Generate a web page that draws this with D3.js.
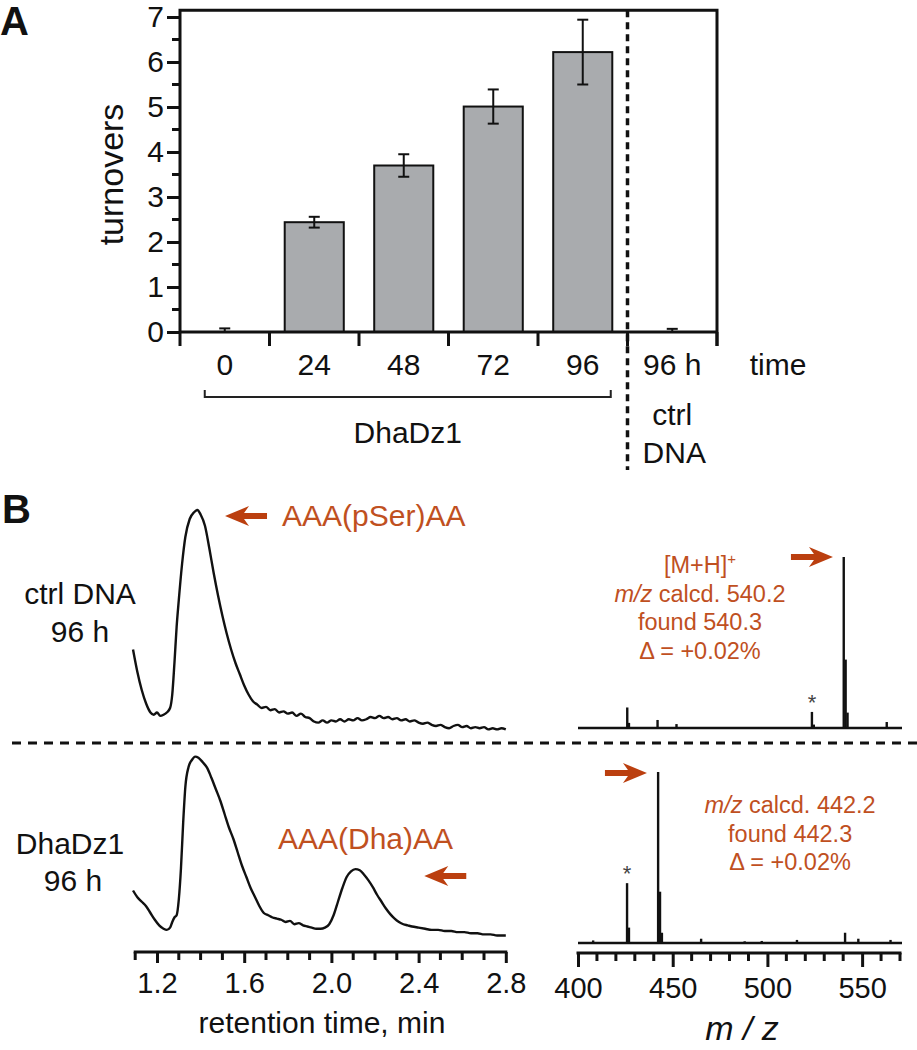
<!DOCTYPE html>
<html><head><meta charset="utf-8">
<script src="https://cdn.jsdelivr.net/npm/d3@7"></script>
<style>body{margin:0;background:#fff} svg{display:block;font-family:"Liberation Sans",Arial,Helvetica,sans-serif}</style>
</head><body><svg id="c" width="917" height="1050"></svg>
<script>
// ---------- Panel A data ----------
const categories = ["0","24","48","72","96","96 h"];
const turnovers = [0.0, 2.44, 3.70, 5.01, 6.22, 0.0];
const turnoverErr = [0.08, 0.12, 0.25, 0.38, 0.72, 0.07];
const yTicksA = [0,1,2,3,4,5,6,7];
const yMinorA = [0.5,1.5,2.5,3.5,4.5,5.5,6.5];

// ---------- Panel B: chromatograms (retention time min, intensity a.u.) ----------
const ctrlTime = [1.09,1.11,1.13,1.15,1.17,1.185,1.20,1.215,1.23,1.245,1.26,1.27,1.28,1.29,1.30,1.315,1.33,1.35,1.37,1.385,1.40,1.42,1.44,1.46,1.48,1.50,1.52,1.54,1.56,1.58,1.60,1.62,1.64,1.66,1.68,1.70,1.72,1.74,1.76,1.78,1.80,1.82,1.84,1.86,1.88,1.90,1.92,1.94,1.96,1.98,2.00,2.02,2.04,2.06,2.08,2.10,2.12,2.14,2.16,2.18,2.20,2.22,2.24,2.26,2.28,2.30,2.32,2.34,2.36,2.38,2.40,2.42,2.44,2.46,2.48,2.50,2.52,2.54,2.56,2.58,2.60,2.62,2.64,2.66,2.68,2.70,2.72,2.74,2.76,2.78,2.80];
const ctrlSignal = [38,28,20,14,10,9,10,8.5,9,10,12,18,32,48,60,76,88,96,99,100,98,93,83,72,62,53,45,38,32,27,22,18,15,13.5,12,12.5,11,11.5,10,10.5,9.5,10,8.5,9.5,8,7.5,6,5.5,6.5,5.5,6.5,6,7,6,7,6.5,7.5,6.5,7,8,7.5,8.5,7.5,8,7,7.5,6.5,7,6,6.5,5.5,5,5.5,4.5,4,4.5,3.5,3,4,4.5,3.5,4,3,3.5,3,3.5,2.5,3,2.5,3,2.5];
const dhaTime = [1.09,1.11,1.13,1.15,1.17,1.19,1.21,1.23,1.245,1.26,1.27,1.28,1.29,1.30,1.31,1.32,1.33,1.345,1.36,1.375,1.39,1.41,1.43,1.45,1.47,1.49,1.51,1.53,1.55,1.57,1.59,1.61,1.63,1.65,1.67,1.69,1.71,1.73,1.75,1.77,1.79,1.81,1.83,1.85,1.87,1.89,1.91,1.93,1.95,1.97,1.99,2.01,2.03,2.05,2.07,2.09,2.11,2.13,2.15,2.17,2.19,2.21,2.23,2.25,2.27,2.29,2.31,2.33,2.35,2.37,2.40,2.43,2.46,2.49,2.52,2.55,2.58,2.61,2.64,2.67,2.70,2.73,2.76,2.80];
const dhaSignal = [22,19,17,15,12,9,6.5,5,4.5,5.5,8,10,11,18,32,52,68,77,80,81.5,81,79,76.5,72,67,62,56,50,45,39,33,28,23,19,15,12,11,10,9.5,9,8,8.5,7,7.5,6.5,6,5.5,5,5,5.5,7,11,17,23,28,30.5,31.5,31,29,26.5,23.5,20,17,14,11.5,9.5,8,7,6.5,6,5.5,5,4.5,4.5,4,4,3.5,3.5,3,3,2.5,2.5,2,2];
const rtTicks = [1.2,1.6,2.0,2.4,2.8];
const rtMinor = [1.1,1.3,1.4,1.5,1.7,1.8,1.9,2.1,2.2,2.3,2.5,2.6,2.7];

// ---------- Panel B: mass spectra (m/z, relative intensity %) ----------
const ctrlMz = [426.0,426.9,442.0,452.0,496.0,523.5,524.5,540.3,541.3,542.3,563.0];
const ctrlInt = [12,3,4.7,2.3,0.6,9.4,2,100,40,9,3.5];
const dhaMz = [408,425.9,426.9,442.3,443.3,444.3,465,488,497,515.6,541,548,565];
const dhaInt = [1.5,35,9,100,30,6,2.5,1,1.2,1.8,6,2.5,1.8];
const mzTicks = [400,450,500,550];
const mzMinor = [410,420,430,440,460,470,480,490,510,520,530,540,560,570];

const RED = "#c0501f", ARROW = "#bb3f0f", INK = "#111";
const svg = d3.select("#c");

// ================= Panel A =================
const x = d3.scaleBand().domain(categories).range([180, 717]).paddingInner(0.34).paddingOuter(0.17);
const y = d3.scaleLinear().domain([0, 7]).range([332, 17]);
const gA = svg.append("g");
const yTop = y(7.15);

gA.append("text").text("A").attr("x", 0).attr("y", 35).attr("font-size", 40).attr("font-weight", "bold").attr("fill", INK);

// bars
gA.selectAll("rect.bar").data(categories.map((c,i)=>({c, v: turnovers[i], e: turnoverErr[i]})))
  .join("rect").attr("class","bar")
  .attr("x", d => x(d.c)).attr("width", x.bandwidth())
  .attr("y", d => y(d.v)).attr("height", d => y(0) - y(d.v))
  .attr("fill", "#a9abae").attr("stroke", "#111").attr("stroke-width", 2)
  .style("display", d => d.v > 0 ? null : "none");

// error bars
const eb = gA.selectAll("g.eb").data(categories.map((c,i)=>({c, v: turnovers[i], e: turnoverErr[i]}))).join("g");
eb.append("line").attr("x1", d => x(d.c)+x.bandwidth()/2).attr("x2", d => x(d.c)+x.bandwidth()/2)
  .attr("y1", d => y(Math.max(0, d.v - d.e))).attr("y2", d => y(d.v + d.e)).attr("stroke", INK).attr("stroke-width", 2);
eb.append("line").attr("x1", d => x(d.c)+x.bandwidth()/2-5.5).attr("x2", d => x(d.c)+x.bandwidth()/2+5.5)
  .attr("y1", d => y(d.v + d.e)).attr("y2", d => y(d.v + d.e)).attr("stroke", INK).attr("stroke-width", 2);
eb.filter(d => d.v - d.e > 0).append("line").attr("x1", d => x(d.c)+x.bandwidth()/2-5.5).attr("x2", d => x(d.c)+x.bandwidth()/2+5.5)
  .attr("y1", d => y(d.v - d.e)).attr("y2", d => y(d.v - d.e)).attr("stroke", INK).attr("stroke-width", 2);

// y axis
const yAxis = d3.axisLeft(y).tickValues(yTicksA).tickSize(13).tickFormat(d3.format("d"));
const gy = gA.append("g").attr("transform", "translate(180,0)").call(yAxis);
gy.select(".domain").remove();
gy.selectAll(".tick line").attr("stroke", INK).attr("stroke-width", 3);
gy.selectAll(".tick text").attr("font-size", 30).attr("x", -16).attr("fill", INK).attr("font-family", "Liberation Sans, Arial, sans-serif");
gA.append("g").selectAll("line").data(yMinorA).join("line")
  .attr("x1", 172).attr("x2", 180).attr("y1", d => y(d)).attr("y2", d => y(d)).attr("stroke", INK).attr("stroke-width", 3);

// frame
gA.append("path").attr("d", `M180,${y(0)}V${yTop}H717V${y(0)+14}`).attr("fill","none").attr("stroke",INK).attr("stroke-width",3);
gA.append("line").attr("x1",180).attr("x2",717).attr("y1",y(0)).attr("y2",y(0)).attr("stroke",INK).attr("stroke-width",3);

// x ticks at band boundaries
const step = x.step(), gap = step - x.bandwidth();
const bounds = categories.map(c => x(c) - gap/2).concat([x(categories[categories.length-1]) + x.bandwidth() + gap/2]);
gA.selectAll("line.xt").data(bounds).join("line").attr("class","xt")
  .attr("x1", d=>d).attr("x2", d=>d).attr("y1", y(0)).attr("y2", y(0)+14).attr("stroke", INK).attr("stroke-width", 3);
gA.selectAll("text.xl").data(categories).join("text").attr("class","xl")
  .attr("x", d => x(d)+x.bandwidth()/2).attr("y", 375).attr("text-anchor","middle").attr("font-size",30).attr("fill",INK).text(d=>d);
gA.append("text").text("time").attr("x", 778).attr("y", 375).attr("text-anchor","middle").attr("font-size",30).attr("fill",INK);
gA.append("text").text("turnovers").attr("transform", `translate(123,${(y(0)+y(7))/2}) rotate(-90)`).attr("text-anchor","middle").attr("font-size",34).attr("fill",INK);

// bracket
const bx1 = x("0") + x.bandwidth()/2 - 20, bx2 = x("96") + x.bandwidth()/2 + 28;
gA.append("path").attr("d", `M${bx1},390V397H${bx2}V390`).attr("fill","none").attr("stroke","#222").attr("stroke-width",2);
gA.append("text").text("DhaDz1").attr("x", (bx1+bx2)/2).attr("y", 443).attr("text-anchor","middle").attr("font-size",30).attr("fill",INK);
gA.append("text").text("ctrl").attr("x", x("96 h")+x.bandwidth()/2).attr("y", 425).attr("text-anchor","middle").attr("font-size",30).attr("fill",INK);
gA.append("text").text("DNA").attr("x", x("96 h")+x.bandwidth()/2+2).attr("y", 463).attr("text-anchor","middle").attr("font-size",30).attr("fill",INK);
// dotted separator
const sepX = bounds[5];
gA.append("line").attr("x1", sepX).attr("x2", sepX).attr("y1", yTop).attr("y2", 470)
  .attr("stroke", INK).attr("stroke-width", 3.5).attr("stroke-dasharray", "7,5");

// ================= Panel B =================
const gB = svg.append("g");
gB.append("text").text("B").attr("x", 2).attr("y", 523).attr("font-size", 40).attr("font-weight", "bold").attr("fill", INK);
// horizontal dashed separator
gB.append("line").attr("x1", 12).attr("x2", 917).attr("y1", 743).attr("y2", 743)
  .attr("stroke", INK).attr("stroke-width", 3).attr("stroke-dasharray", "9,7");

// chromatograms
const xt = d3.scaleLinear().domain([1.1, 2.8]).range([135.2, 505.8]);
const yCtrl = d3.scaleLinear().domain([0, 100]).range([735, 510]);
const yDha = d3.scaleLinear().domain([0, 100]).range([940, 715]);
const lineCtrl = d3.line().x(d => xt(d[0])).y(d => yCtrl(d[1])).curve(d3.curveMonotoneX);
const lineDha = d3.line().x(d => xt(d[0])).y(d => yDha(d[1])).curve(d3.curveMonotoneX);
gB.append("path").attr("d", lineCtrl(d3.zip(ctrlTime, ctrlSignal))).attr("fill","none").attr("stroke",INK).attr("stroke-width",2.4).attr("stroke-linejoin","round");
gB.append("path").attr("d", lineDha(d3.zip(dhaTime, dhaSignal))).attr("fill","none").attr("stroke",INK).attr("stroke-width",2.4).attr("stroke-linejoin","round");

// rt axis
const gxt = gB.append("g").attr("transform", "translate(0,952)")
  .call(d3.axisBottom(xt).tickValues(rtTicks).tickSize(11).tickFormat(d3.format(".1f")));
gxt.select(".domain").remove();
gxt.selectAll(".tick line").attr("stroke", INK).attr("stroke-width", 3);
gxt.selectAll(".tick text").attr("font-size", 29).attr("y", 20).attr("dy", "0.71em").attr("fill", INK).attr("font-family", "Liberation Sans, Arial, sans-serif");
gB.append("g").selectAll("line").data(rtMinor).join("line").attr("x1", d=>xt(d)).attr("x2", d=>xt(d)).attr("y1", 952).attr("y2", 960).attr("stroke", INK).attr("stroke-width", 3);
gB.append("line").attr("x1", xt(1.1)-1.5).attr("x2", xt(2.8)+1.5).attr("y1", 952).attr("y2", 952).attr("stroke", INK).attr("stroke-width", 3);
gB.append("text").text("retention time, min").attr("x", 322).attr("y", 1033).attr("text-anchor","middle").attr("font-size",30).attr("fill",INK);

// chromatogram labels
gB.append("text").text("ctrl DNA").attr("x", 80).attr("y", 604).attr("text-anchor","middle").attr("font-size",30).attr("fill",INK);
gB.append("text").text("96 h").attr("x", 80).attr("y", 642).attr("text-anchor","middle").attr("font-size",30).attr("fill",INK);
gB.append("text").text("DhaDz1").attr("x", 70).attr("y", 854).attr("text-anchor","middle").attr("font-size",30).attr("fill",INK);
gB.append("text").text("96 h").attr("x", 73).attr("y", 891).attr("text-anchor","middle").attr("font-size",30).attr("fill",INK);

function arrow(g, tx, ty, dir) {
  const p = [[0,0],[24,-10],[19,-3],[42,-3],[42,3],[19,3],[24,10]].map(([a,b]) => [tx + dir*a, ty + b]);
  g.append("path").attr("d", "M" + p.map(q => q.join(",")).join("L") + "Z").attr("fill", ARROW);
}
// annotations in data coordinates
arrow(gB, xt(1.512), yCtrl(97.3), 1);
gB.append("text").text("AAA(pSer)AA").attr("x", 282).attr("y", 526).attr("font-size",30).attr("fill",RED);
arrow(gB, xt(2.426), yDha(28.4), 1);
gB.append("text").text("AAA(Dha)AA").attr("x", 278).attr("y", 849).attr("font-size",30).attr("fill",RED);

// mass spectra
const xm = d3.scaleLinear().domain([400, 570]).range([578, 900]);
const ymCtrl = d3.scaleLinear().domain([0, 100]).range([728, 557]);
const ymDha = d3.scaleLinear().domain([0, 100]).range([943, 772]);
function spectrum(mz, inten, ys) {
  gB.append("line").attr("x1", xm(400)).attr("x2", xm(570)+2).attr("y1", ys(0)).attr("y2", ys(0)).attr("stroke", INK).attr("stroke-width", 2.5);
  gB.append("g").selectAll("line").data(d3.zip(mz, inten)).join("line")
    .attr("x1", d => xm(d[0])).attr("x2", d => xm(d[0])).attr("y1", ys(0)).attr("y2", d => ys(d[1]))
    .attr("stroke", INK).attr("stroke-width", 2.4);
}
spectrum(ctrlMz, ctrlInt, ymCtrl);
spectrum(dhaMz, dhaInt, ymDha);
gB.append("text").text("*").attr("x", xm(523.5)).attr("y", ymCtrl(9.4) - 2).attr("text-anchor","middle").attr("font-size",22).attr("fill","#444");
gB.append("text").text("*").attr("x", xm(425.9)).attr("y", ymDha(35) - 2).attr("text-anchor","middle").attr("font-size",22).attr("fill","#444");
arrow(gB, xm(534.6), ymCtrl(100), -1);
arrow(gB, xm(436.4), ymDha(99.4), -1);

// mz axis
const gxm = gB.append("g").attr("transform", "translate(0,953)")
  .call(d3.axisBottom(xm).tickValues(mzTicks).tickSize(14).tickFormat(d3.format("d")));
gxm.select(".domain").remove();
gxm.selectAll(".tick line").attr("stroke", INK).attr("stroke-width", 3);
gxm.selectAll(".tick text").attr("font-size", 29).attr("y", 24).attr("dy", "0.71em").attr("fill", INK).attr("font-family", "Liberation Sans, Arial, sans-serif");
gB.append("g").selectAll("line").data(mzMinor).join("line").attr("x1", d=>xm(d)).attr("x2", d=>xm(d)).attr("y1", 953).attr("y2", 961).attr("stroke", INK).attr("stroke-width", 3);
gB.append("line").attr("x1", xm(400)-1.5).attr("x2", xm(570)+1.5).attr("y1", 953).attr("y2", 953).attr("stroke", INK).attr("stroke-width", 3);
const mzLab = gB.append("text").attr("x", 742).attr("y", 1040).attr("text-anchor","middle").attr("font-size",34).attr("font-style","italic").attr("fill",INK);
mzLab.text("m / z");

// MS annotation text
function msText(cx, y0, lines) {
  lines.forEach((ln, i) => {
    const t = gB.append("text").attr("x", cx).attr("y", y0 + i*28.5).attr("text-anchor","middle").attr("font-size",23.5).attr("fill",RED);
    ln.forEach(seg => {
      const s = t.append("tspan").text(seg.t);
      if (seg.i) s.attr("font-style","italic");
      if (seg.sup) s.attr("font-size", 15).attr("baseline-shift", "9");
    });
  });
}
msText(xm(464.4), 573, [
  [{t:"[M+H]"},{t:"+", sup:true}],
  [{t:"m/z", i:true},{t:" calcd. 540.2"}],
  [{t:"found 540.3"}],
  [{t:"\u0394 = +0.02%"}]
]);
msText(xm(512), 813, [
  [{t:"m/z", i:true},{t:" calcd. 442.2"}],
  [{t:"found 442.3"}],
  [{t:"\u0394 = +0.02%"}]
]);
</script></body></html>
